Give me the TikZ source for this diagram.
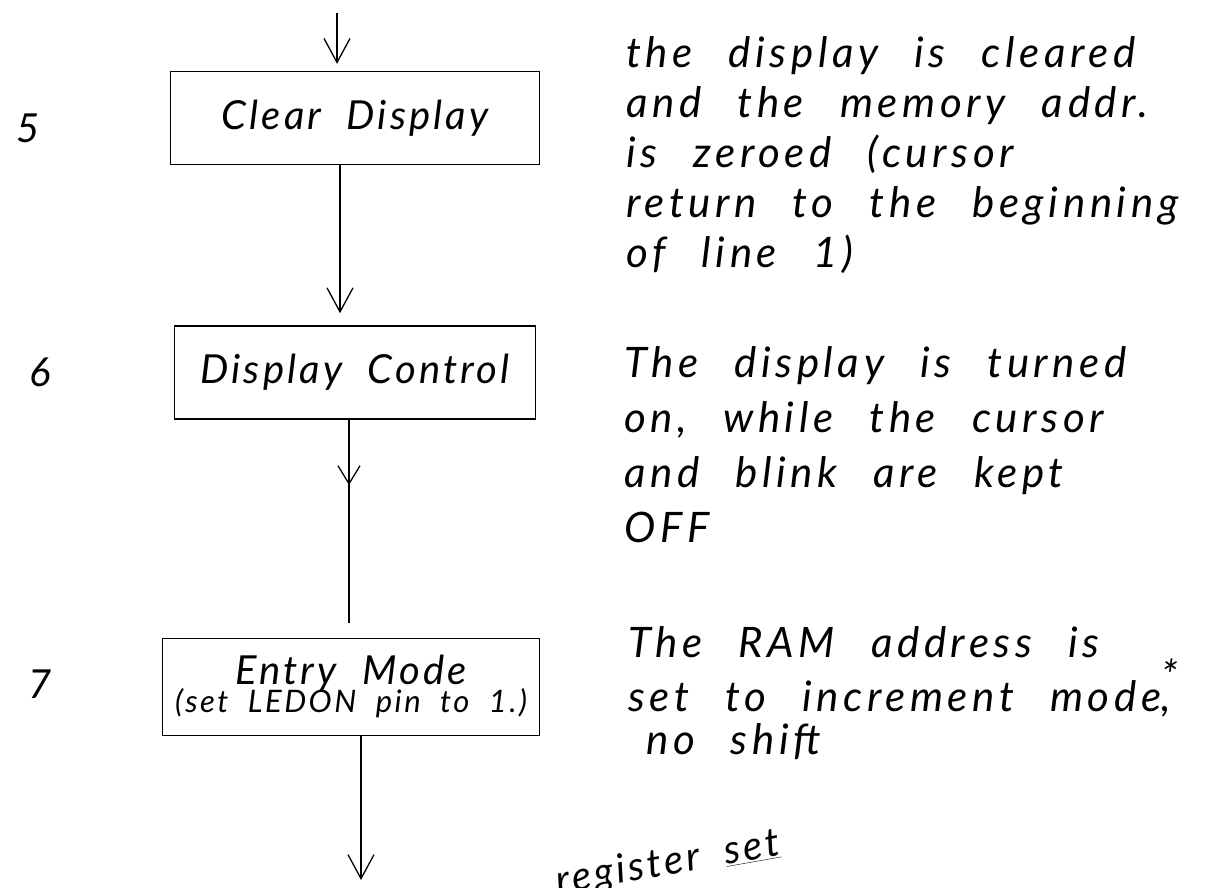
\documentclass[tikz,border=0pt]{standalone}
\usepackage{fontspec}
\setmainfont{Lato}[LetterSpace=8, WordSpace=2]
\newfontfamily\handwide{Lato}[LetterSpace=11, WordSpace=2.5]
\usetikzlibrary{positioning,arrows.meta,decorations.markings}

\begin{document}
\begin{tikzpicture}[
    x=1pt, y=-1pt,
    node distance=120pt,
    block/.style={rectangle, draw, line width=1.4pt, minimum height=93pt, text centered, font=\fontsize{40}{42}\selectfont\itshape},
    arrow/.style={-{Straight Barb[length=24pt,width=26pt]}, line width=1.3pt},
    midarrow/.style={line width=1.3pt, postaction={decorate}, decoration={markings, mark=at position 0.3 with {\arrow[line width=1.3pt]{Straight Barb[length=18pt,width=22pt]}}}},
    note/.style={anchor=north west, align=left, inner sep=0pt, font=\handwide\fontsize{42}{50}\selectfont\itshape},
    num/.style={font=\fontsize{40}{40}\selectfont\itshape}
]
    \useasboundingbox (0,0) rectangle (1217,888);

    % Nodes
    \node[block, minimum width=369pt] (clear) at (355,118) {Clear Display};
    \node[block, minimum width=361pt, below=160pt of clear] (ctrl) {Display Control};
    \node[block, minimum width=377pt, minimum height=97pt, below=218pt of ctrl, xshift=-4pt, align=center] (entry) {Entry Mode\\[-14pt]{\fontsize{31}{31}\selectfont (set LEDON pin to 1.)}};

    % Step numbers
    \node[num] (n5) at (28,128) {5};
    \node[num] (n6) at (40,372) {6};
    \node[num] (n7) at (40,684) {7};

    % Descriptions
    \node[note] (d5) at (626,36) {the display is cleared\\and the memory addr.\\is zeroed (cursor\\return to the beginning\\of line 1)};
    \node[note, font=\handwide\fontsize{42}{55}\selectfont\itshape] (d6) at (624,346) {The display is turned\\on, while the cursor\\and blink are kept\\OFF};
    \node[note, font=\handwide\fontsize{42}{43}\selectfont\itshape] (d7) at (628,626) {The RAM address is\\set to increment mode\rlap{\raisebox{0.5em}{*}},\\\hspace{18pt}no shift};
    \node[rotate=10, font=\fontsize{40}{40}\selectfont\itshape] (regset) at (668,864) {register \underline{set}};

    % Arrows
    \coordinate (start) at (337,13);
    \coordinate (exit) at (361,880);
    \draw[arrow, shorten >=7pt] (start) -- (start |- clear.north);
    \draw[arrow, shorten >=12pt] ([xshift=-15pt]clear.south) -- ([xshift=-15pt]ctrl.north);
    \draw[midarrow, shorten >=15pt] ([xshift=-6pt]ctrl.south) -- ([xshift=-2pt]entry.north);
    \draw[arrow] ([xshift=10pt]entry.south) -- (exit);
\end{tikzpicture}
\end{document}
